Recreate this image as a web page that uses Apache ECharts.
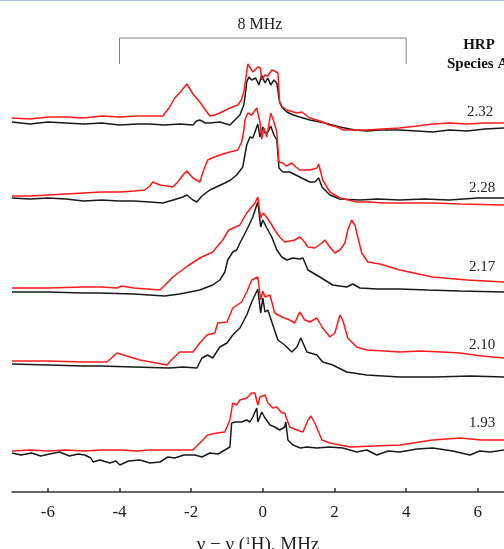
<!DOCTYPE html>
<html><head><meta charset="utf-8">
<script src="https://cdn.jsdelivr.net/npm/echarts@6/dist/echarts.min.js"></script>
<style>html,body{margin:0;padding:0;background:#fff;}#c{width:504px;height:549px;}</style>
</head><body><div id="c"></div>
<script>
// x ticks (MHz)
const xTicks = [-6, -4, -2, 0, 2, 4, 6];
const gLabels = ['2.32', '2.28', '2.17', '2.10', '1.93'];
const bracketEnds = [-4, 4];
const bracketLabel = '8 MHz';

// spectra: [frequency offset MHz, stacked intensity]
const red232 = [[-7.00,374],[-6.5,373],[-6.0,375],[-5.5,375],[-5.0,374],[-4.5,376],[-4.0,375],[-3.5,376],[-3.15,376],[-2.79,376],[-2.60,385],[-2.46,394],[-2.30,400],[-2.12,408],[-1.95,398],[-1.76,390],[-1.60,382],[-1.48,376],[-1.35,377],[-1.20,379],[-0.92,384],[-0.70,387],[-0.60,392],[-0.53,400],[-0.47,415],[-0.42,428],[-0.35,424],[-0.28,420],[-0.14,425],[-0.07,424],[-0.03,412],[0.06,417],[0.14,416],[0.25,422],[0.33,421],[0.42,419],[0.47,390],[0.55,385],[0.67,382],[0.95,379],[1.09,380],[1.20,377],[1.31,374],[1.50,372],[1.67,370],[1.85,367],[2.07,365],[2.25,362],[2.43,362],[2.9,362],[3.35,363],[3.8,364],[4.3,366],[4.74,368],[5.2,369],[5.7,368],[6.2,369],[6.73,369]];
const black232 = [[-7.00,370],[-6.5,368],[-6.0,370],[-5.5,369],[-5.0,368],[-4.5,369],[-4.0,367],[-3.5,368],[-3.15,368],[-2.75,367],[-2.32,368],[-1.95,367],[-1.85,371],[-1.76,372],[-1.60,369],[-1.48,369],[-1.20,370],[-0.92,367],[-0.78,372],[-0.64,377],[-0.53,387],[-0.48,400],[-0.45,410],[-0.39,415],[-0.31,412],[-0.20,414],[-0.11,407],[-0.03,417],[0.06,409],[0.14,414],[0.22,407],[0.31,412],[0.39,409],[0.47,389],[0.55,384],[0.67,380],[0.85,377],[1.03,375],[1.31,372],[1.73,369],[2.15,365],[2.57,362],[2.9,361],[3.27,362],[3.82,362],[4.3,361],[4.74,360],[5.2,362],[5.7,361],[6.2,363],[6.73,364]];

const red228 = [[-7.00,296],[-6.5,296],[-6.0,297],[-5.5,298],[-5.0,299],[-4.5,300],[-4.0,300],[-3.6,301],[-3.3,302],[-3.15,306],[-3.07,310],[-2.87,307],[-2.51,305],[-2.35,311],[-2.23,317],[-2.12,321],[-1.95,314],[-1.76,310],[-1.65,322],[-1.54,332],[-1.35,335],[-1.20,337],[-0.92,340],[-0.70,342],[-0.59,350],[-0.53,362],[-0.50,372],[-0.42,379],[-0.31,377],[-0.17,384],[-0.08,370],[-0.03,353],[0.03,364],[0.11,355],[0.22,379],[0.31,370],[0.39,360],[0.45,330],[0.56,329],[0.65,326],[0.81,329],[0.92,325],[1.03,322],[1.31,322],[1.51,324],[1.56,328],[1.67,312],[1.87,300],[2.15,294],[2.62,290],[3.0,290],[3.35,289],[4.0,289],[4.74,289],[5.5,288],[6.73,287]];
const black228 = [[-7.00,294],[-6.5,293],[-6.0,294],[-5.5,293],[-5.0,291],[-4.5,292],[-4.0,291],[-3.6,291],[-3.15,290],[-2.79,289],[-2.50,292],[-2.23,295],[-2.12,297],[-1.95,292],[-1.84,290],[-1.70,296],[-1.48,302],[-1.30,305],[-1.06,309],[-0.90,312],[-0.73,317],[-0.56,325],[-0.45,347],[-0.36,355],[-0.28,354],[-0.20,362],[-0.14,368],[-0.08,355],[0.00,365],[0.06,359],[0.14,360],[0.22,366],[0.31,357],[0.39,352],[0.45,324],[0.56,320],[0.75,320],[1.03,315],[1.31,310],[1.45,310],[1.56,314],[1.65,305],[1.87,297],[2.15,293],[2.71,292],[3.2,293],[3.82,292],[4.5,293],[5.2,292],[6.0,294],[6.73,294]];

const red217 = [[-7.00,204],[-6.0,204],[-5.0,205],[-4.5,205],[-4.07,204],[-3.94,206],[-3.6,204],[-2.87,202],[-2.70,208],[-2.51,215],[-2.10,226],[-1.76,234],[-1.40,240],[-1.12,252],[-0.95,262],[-0.64,267],[-0.45,279],[-0.22,289],[-0.14,295],[-0.06,274],[0.00,279],[0.06,277],[0.11,279],[0.20,270],[0.33,262],[0.47,255],[0.61,250],[0.89,252],[1.03,255],[1.12,252],[1.26,245],[1.45,244],[1.65,249],[1.73,252],[1.87,245],[2.01,239],[2.15,242],[2.29,249],[2.37,262],[2.48,272],[2.51,273],[2.58,266],[2.62,259],[2.76,239],[2.93,230],[3.27,228],[3.82,222],[4.74,215],[5.7,212],[6.73,210]];
const black217 = [[-7.00,200],[-6.0,200],[-5.0,199],[-4.55,199],[-3.6,198],[-2.74,196],[-2.32,198],[-1.76,202],[-1.40,207],[-1.20,212],[-1.06,220],[-0.98,232],[-0.84,240],[-0.73,242],[-0.64,249],[-0.45,262],[-0.28,275],[-0.17,287],[-0.14,290],[-0.06,265],[0.00,272],[0.11,264],[0.25,255],[0.39,242],[0.53,235],[0.67,232],[0.84,234],[1.03,233],[1.12,234],[1.26,222],[1.59,215],[1.95,207],[2.34,205],[2.51,208],[2.71,204],[3.2,203],[3.82,203],[4.6,202],[5.5,201],[6.73,200]];

const red210 = [[-7.00,131],[-6.0,131],[-5.0,130],[-4.55,130],[-4.35,130],[-4.07,139],[-3.80,136],[-3.43,132],[-2.68,127],[-2.50,134],[-2.32,140],[-1.95,140],[-1.76,149],[-1.56,157],[-1.34,159],[-1.26,169],[-1.00,170],[-0.84,184],[-0.59,190],[-0.45,200],[-0.31,212],[-0.14,215],[-0.06,192],[0.00,201],[0.06,195],[0.20,197],[0.33,179],[0.53,175],[0.75,172],[0.89,169],[1.03,180],[1.17,172],[1.31,170],[1.51,174],[1.65,165],[1.87,155],[2.01,159],[2.15,177],[2.23,172],[2.37,154],[2.62,145],[2.90,142],[3.4,141],[3.82,140],[4.38,141],[5.0,140],[5.50,139],[6.1,136],[6.73,134]];
const black210 = [[-7.00,128],[-6.0,127],[-5.0,126],[-4.55,126],[-3.6,125],[-2.60,124],[-2.23,125],[-1.84,124],[-1.70,134],[-1.54,137],[-1.40,134],[-1.20,145],[-1.00,149],[-0.84,157],[-0.64,164],[-0.45,177],[-0.31,190],[-0.14,203],[-0.06,179],[0.00,194],[0.06,180],[0.14,182],[0.28,167],[0.42,152],[0.61,147],[0.81,140],[0.95,145],[1.06,154],[1.23,140],[1.51,137],[1.67,130],[1.95,127],[2.34,120],[2.90,117],[3.82,115],[4.8,115],[5.8,116],[6.73,115]];

const red193 = [[-7.00,41],[-6.5,42],[-6.0,41],[-5.5,42],[-5.0,41],[-4.5,42],[-4.0,42],[-3.5,41],[-3.15,42],[-2.5,42],[-1.95,42],[-1.76,49],[-1.54,57],[-1.28,59],[-1.06,60],[-0.92,72],[-0.84,89],[-0.73,87],[-0.64,92],[-0.45,94],[-0.31,99],[-0.22,99],[-0.14,87],[-0.08,95],[0.06,97],[0.14,89],[0.28,84],[0.39,85],[0.53,79],[0.61,79],[0.75,65],[0.95,62],[1.12,60],[1.26,72],[1.34,76],[1.45,69],[1.65,52],[1.87,49],[2.43,45],[3.1,46],[3.82,47],[4.74,52],[5.50,54],[6.1,52],[6.73,52]];
const black193 = [[-7.00,39],[-6.75,37],[-6.45,39],[-6.2,36],[-5.95,38],[-5.67,40],[-5.4,36],[-5.15,38],[-4.97,37],[-4.80,34],[-4.74,30],[-4.55,32],[-4.27,29],[-4.10,31],[-3.99,27],[-3.75,31],[-3.43,32],[-3.15,29],[-2.87,30],[-2.65,35],[-2.46,34],[-2.20,37],[-1.90,37],[-1.70,35],[-1.48,39],[-1.25,38],[-1.06,42],[-0.92,45],[-0.87,69],[-0.78,70],[-0.59,70],[-0.45,72],[-0.36,70],[-0.28,75],[-0.17,84],[-0.14,70],[-0.03,80],[0.06,74],[0.20,67],[0.33,65],[0.47,62],[0.61,65],[0.64,70],[0.70,52],[0.84,47],[1.05,44],[1.23,45],[1.51,44],[1.85,45],[2.23,44],[2.62,40],[2.90,42],[3.18,37],[3.50,41],[3.82,40],[4.30,43],[4.74,44],[5.30,41],[5.78,37],[6.05,41],[6.34,40],[6.73,42]];

const bracketLevels = [428, 454];

const pairs = [[black232, red232], [black228, red228], [black217, red217], [black210, red210], [black193, red193]];
const FONT = 'Liberation Serif';
const series = [];
pairs.forEach(function (p, i) {
  series.push({type: 'line', name: 'black ' + gLabels[i], data: p[0], showSymbol: false, silent: true,
    lineStyle: {color: '#1a1a1a', width: 1.5}, z: 2});
  series.push({type: 'line', name: 'red ' + gLabels[i], data: p[1], showSymbol: false, silent: true,
    lineStyle: {color: '#ff1a1a', width: 1.5}, z: 3});
});
series.push({type: 'line', name: 'bracket', showSymbol: false, silent: true,
  data: [[bracketEnds[0], bracketLevels[0]], [bracketEnds[0], bracketLevels[1]], [bracketEnds[1], bracketLevels[1]], [bracketEnds[1], bracketLevels[0]]],
  lineStyle: {color: '#808080', width: 1}});

const chart = echarts.init(document.getElementById('c'), null, {renderer: 'canvas'});
chart.setOption({
  animation: false,
  backgroundColor: '#fff',
  grid: {left: 12, right: 0, top: 0, bottom: 57, containLabel: false, outerBoundsMode: 'none'},
  xAxis: {
    type: 'value', min: -7, max: 6.73,
    axisLine: {show: true, onZero: false, lineStyle: {color: '#333', width: 1.5}},
    axisTick: {show: true, inside: true, length: 4, customValues: xTicks, lineStyle: {color: '#333', width: 1.5}},
    axisLabel: {show: true, customValues: xTicks, color: '#222', fontFamily: FONT, fontSize: 17, margin: 12},
    splitLine: {show: false},
    name: '{a|ν − ν (}{s|1}{a|H), MHz}',
    nameLocation: 'middle', nameGap: 44,
    nameTextStyle: {rich: {a: {fontFamily: FONT, fontSize: 19, color: '#222'}, s: {fontFamily: FONT, fontSize: 11, color: '#222', verticalAlign: 'top', padding: [0,0,8,0]}}}
  },
  yAxis: {type: 'value', min: 0, max: 492, show: false},
  series: series,
  graphic: [
    {type: 'rect', shape: {x: 0, y: 0, width: 504, height: 1}, style: {fill: '#a9c7e3'}},
    {type: 'text', x: 260, y: 25, style: {text: bracketLabel, font: '16px "Liberation Serif"', fill: '#222', align: 'center', verticalAlign: 'middle'}},
    {type: 'text', x: 479, y: 45, style: {text: 'HRP', font: 'bold 15px "Liberation Serif"', fill: '#111', align: 'center', verticalAlign: 'middle'}},
    {type: 'text', x: 447, y: 64, style: {text: 'Species A', font: 'bold 15px "Liberation Serif"', fill: '#111', align: 'left', verticalAlign: 'middle'}},
    {type: 'text', x: 480, y: 112, style: {text: gLabels[0], font: '15px "Liberation Serif"', fill: '#222', align: 'center', verticalAlign: 'middle'}},
    {type: 'text', x: 482, y: 188, style: {text: gLabels[1], font: '15px "Liberation Serif"', fill: '#222', align: 'center', verticalAlign: 'middle'}},
    {type: 'text', x: 482, y: 267, style: {text: gLabels[2], font: '15px "Liberation Serif"', fill: '#222', align: 'center', verticalAlign: 'middle'}},
    {type: 'text', x: 482, y: 345, style: {text: gLabels[3], font: '15px "Liberation Serif"', fill: '#222', align: 'center', verticalAlign: 'middle'}},
    {type: 'text', x: 482, y: 423, style: {text: gLabels[4], font: '15px "Liberation Serif"', fill: '#222', align: 'center', verticalAlign: 'middle'}}
  ]
});
</script></body></html>
